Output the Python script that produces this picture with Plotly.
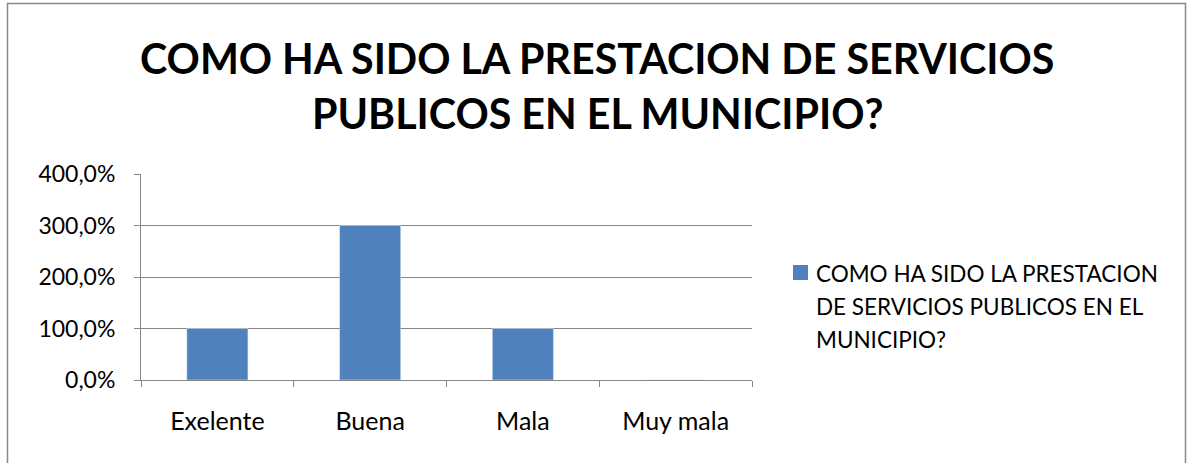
import plotly.graph_objects as go

categories = ["Exelente", "Buena", "Mala", "Muy mala"]
values = [1.0, 3.0, 1.0, 0.0]
series_name = "COMO HA SIDO LA PRESTACION DE SERVICIOS PUBLICOS EN EL MUNICIPIO?"
title_lines = ["COMO HA SIDO LA PRESTACION DE SERVICIOS", "PUBLICOS EN EL MUNICIPIO?"]
legend_lines = ["COMO HA SIDO LA PRESTACION", "DE SERVICIOS PUBLICOS EN EL", "MUNICIPIO?"]
y_ticks = [0, 1, 2, 3, 4]

W, H = 1190, 463
L, R, T, B = 141, 752, 174, 380
pw, ph = R - L, B - T

def px(x):
    return (x - L) / pw

def py(y):
    return (B - y) / ph

FONT = "Lato"
GRID = "#868686"
BAR = "#4F81BD"

fig = go.Figure()
fig.add_trace(go.Bar(x=categories, y=values, name=series_name, marker_color=BAR,
                     showlegend=False))

fig.update_layout(
    width=W, height=H,
    margin=dict(l=L, r=W - R, t=T, b=H - B, pad=0),
    paper_bgcolor="white", plot_bgcolor="white",
    separators=",.",
    bargap=0.6,
    font=dict(family=FONT, size=23, color="black"),
    xaxis=dict(showline=True, linecolor=GRID, linewidth=1, ticks="outside",
               tickson="boundaries", ticklen=6, tickcolor=GRID, showgrid=False,
               tickfont=dict(size=25), ticklabelstandoff=19),
    yaxis=dict(range=[0, 4], tickvals=y_ticks, tickformat=".1%", showline=True,
               linecolor=GRID, linewidth=1, ticks="outside", ticklen=6, tickcolor=GRID,
               showgrid=True, gridcolor=GRID, gridwidth=1, zeroline=False,
               tickfont=dict(size=23), ticklabelstandoff=14),
)

# Title lines
for line, ycen in zip(title_lines, [58, 113]):
    fig.add_annotation(text="<b>%s</b>" % line, xref="paper", yref="paper",
                       x=px(597), y=py(ycen), xanchor="center", yanchor="middle",
                       showarrow=False, font=dict(family=FONT, size=41.2, color="black"))

# Legend
fig.add_shape(type="rect", xref="paper", yref="paper",
              x0=px(793), x1=px(808), y0=py(280), y1=py(265),
              fillcolor=BAR, line=dict(width=0))
for line, ycen in zip(legend_lines, [273, 306, 339]):
    fig.add_annotation(text=line, xref="paper", yref="paper",
                       x=px(814), y=py(ycen), xanchor="left", yanchor="middle",
                       showarrow=False, font=dict(family=FONT, size=22.5, color="black"))

# Chart frame
fig.add_shape(type="rect", xref="paper", yref="paper",
              x0=px(7.5), x1=px(1185.5), y0=py(475), y1=py(3.5),
              line=dict(color="#898989", width=1.5), fillcolor="rgba(0,0,0,0)", layer="below")

fig.write_html("out.html", config={"displayModeBar": False},
               post_script="document.body.style.margin='0';")
